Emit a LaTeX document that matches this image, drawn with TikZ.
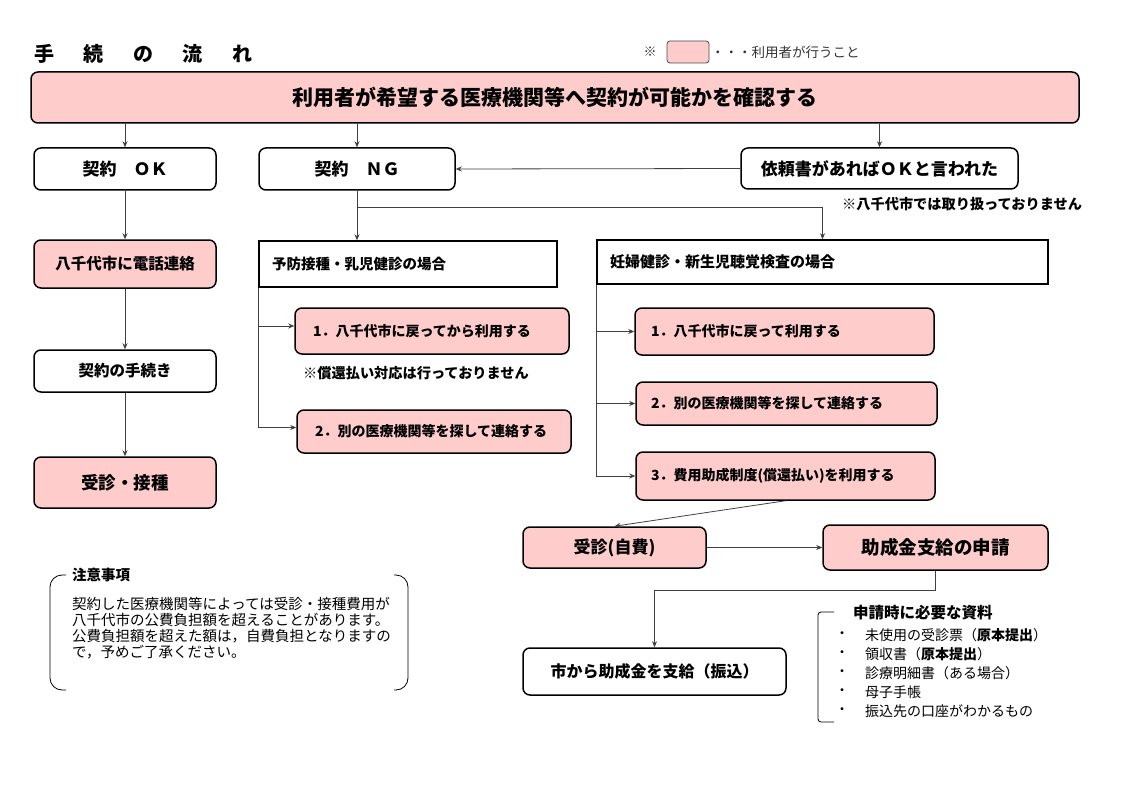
\documentclass[tikz,border=0pt]{standalone}
\usepackage{fontspec}
\setmainfont{Noto Sans CJK JP}
\usetikzlibrary{arrows.meta}
\definecolor{pk}{RGB}{255,204,204}
\newcommand{\fs}[1]{\fontsize{#1}{#1}\selectfont}
\begin{document}
\begin{tikzpicture}[x=1pt,y=-1pt,
  box/.style={draw, line width=1.5pt, rounded corners=7pt, inner sep=0pt, align=center, font=\bfseries},
  pinkbox/.style={box, fill=pk},
  sqbox/.style={draw, line width=1.5pt, inner ysep=0pt, align=left, font=\bfseries},
  lbox/.style={draw, line width=1.5pt, rounded corners=7pt, fill=pk, inner ysep=0pt, align=left, font=\bfseries},
  ln/.style={draw=black!75, line width=0.8pt},
  arr/.style={ln, -{Stealth[length=6pt,width=5pt]}},
  txt/.style={inner sep=0pt}]
\useasboundingbox (0,0) rectangle (1123,794);
\fill[white] (0,0) rectangle (1123,794);

% title
\node[txt, anchor=west, font=\bfseries\fs{20}] (title) at (34,54) {手\hspace{29.5pt}続\hspace{29.5pt}の\hspace{29.5pt}流\hspace{29.5pt}れ};

% legend
\node[txt, font=\fs{13}, text=black!80] (legmark) at (650,52) {※};
\node[draw=black!70, line width=0.8pt, fill=pk, rounded corners=3pt, minimum width=42, minimum height=22, inner sep=0pt] (leg) at (688,52) {};
\node[txt, anchor=west, font=\fs{13.5}, text=black!80] (legtxt) at (711,52) {・・・利用者が行うこと};

% top box
\node[pinkbox, minimum width=1048, minimum height=51, font=\bfseries\fs{21}] (top) at (555,97.5) {利用者が希望する医療機関等へ契約が可能かを確認する};

% second row
\node[box, minimum width=182, minimum height=42, font=\bfseries\fs{17}] (ok) at (125,169) {契約　ＯＫ};
\node[box, minimum width=196, minimum height=42, font=\bfseries\fs{17}] (ng) at (357,169) {契約　ＮＧ};
\node[box, minimum width=277, minimum height=41, font=\bfseries\fs{17}] (irai) at (879.5,168.5) {依頼書があればＯＫと言われた};
\node[txt, anchor=west, font=\bfseries\fs{14.2}] (note2) at (842,204) {※八千代市では取り扱っておりません};

% left column
\node[pinkbox, minimum width=182, minimum height=48, font=\bfseries\fs{15.5}] (tel) at (125,264) {八千代市に電話連絡};
\node[box, minimum width=182, minimum height=42, font=\bfseries\fs{15.5}] (proc) at (125,371) {契約の手続き};
\node[pinkbox, minimum width=182, minimum height=51, font=\bfseries\fs{17.5}] (jus) at (125,482.5) {受診・接種};

% NG branch - yobo
\node[sqbox, minimum height=46, inner xsep=13pt, text width=272pt, font=\bfseries\fs{14.5}] (yobo) at (408,264) {予防接種・乳児健診の場合};
\node[lbox, minimum height=46, inner xsep=18pt, text width=238pt, font=\bfseries\fs{14}] (y1) at (432,331) {1．八千代市に戻ってから利用する};
\node[txt, anchor=west, font=\bfseries\fs{14.2}] (note1) at (303,373) {※償還払い対応は行っておりません};
\node[lbox, minimum height=43, inner xsep=18pt, text width=238pt, font=\bfseries\fs{14}] (y2) at (434,431.5) {2．別の医療機関等を探して連絡する};

% NG branch - ninp
\node[sqbox, minimum height=44, inner xsep=13pt, text width=425pt, font=\bfseries\fs{15}] (ninp) at (822.5,262) {妊婦健診・新生児聴覚検査の場合};
\node[lbox, minimum height=47, inner xsep=16pt, text width=267pt, font=\bfseries\fs{14}] (n1) at (784.5,331.5) {1．八千代市に戻って利用する};
\node[lbox, minimum height=43, inner xsep=15pt, text width=271pt, font=\bfseries\fs{14}] (n2) at (786.5,403.5) {2．別の医療機関等を探して連絡する};
\node[lbox, minimum height=48, inner xsep=15pt, text width=269pt, font=\bfseries\fs{14}] (n3) at (785.5,476) {3．費用助成制度(償還払い)を利用する};

% bottom flow
\node[pinkbox, minimum width=183, minimum height=41, font=\bfseries\fs{17}] (jihi) at (614.5,547.5) {受診(自費)};
\node[pinkbox, minimum width=225, minimum height=45, font=\bfseries\fs{18.5}] (josei) at (935.5,547.5) {助成金支給の申請};
\node[box, minimum width=263, minimum height=47, font=\bfseries\fs{16}] (shi) at (654.5,671.5) {市から助成金を支給（振込）};

% caution
\node[txt, anchor=west, font=\bfseries\fs{14.5}] (cautt) at (72,575) {注意事項};
\node[txt, anchor=west, align=left, font=\fontsize{14.5}{16}\selectfont] (caut) at (72,628) {契約した医療機関等によっては受診・接種費用が\\八千代市の公費負担額を超えることがあります。\\公費負担額を超えた額は，自費負担となりますの\\で，予めご了承ください。};
\draw[line width=0.8pt, rounded corners=12pt] (66,575) -- (50,575) -- (50,690) -- (66,690);
\draw[line width=0.8pt, rounded corners=12pt] (394,575) -- (408,575) -- (408,690) -- (394,690);

% required documents
\node[txt, anchor=west, font=\bfseries\fs{15.5}] (reqt) at (853,613) {申請時に必要な資料};
\node[txt, align=center, font=\fontsize{14}{19}\selectfont] (dots) at (842,673) {・\\・\\・\\・\\・};
\node[txt, anchor=west, align=left, font=\fontsize{14}{19}\selectfont] (req) at (865,673) {未使用の受診票（\textbf{原本提出}）\\領収書（\textbf{原本提出}）\\診療明細書（ある場合）\\母子手帳\\振込先の口座がわかるもの};
\draw[line width=0.8pt, rounded corners=3pt] (834,612) -- (818,612) -- (818,722) -- (834,722);

% connectors
\draw[arr] (top.south -| ok.north) -- (ok.north);
\draw[arr] (top.south -| ng.north) -- (ng.north);
\draw[arr] (top.south -| irai.north) -- (irai.north);
\draw[arr] (irai.west) -- (ng.east);
\draw[arr] (ok) -- (tel);
\draw[arr] (tel) -- (proc);
\draw[arr] (proc) -- (jus);
\draw[arr] (ng.south) -- (ng.south |- yobo.north);
\path (ng.south) ++(0,17) coordinate (br);
\draw[arr] (br) -| (ninp.north);
\draw[arr] (yobo.south west) |- ([yshift=5pt]y1.west);
\draw[arr] (yobo.south west) |- ([yshift=4pt]y2.west);
\draw[arr] (ninp.south west) |- (n1.west);
\draw[arr] (ninp.south west) |- (n2.west);
\draw[arr] (ninp.south west) |- (n3.west);
\draw[arr] (n3.south) -- (jihi.north);
\draw[arr] (jihi) -- (josei);
\path (josei.south) ++(0,20) coordinate (br2);
\draw[arr] (josei.south) -- (br2) -| (shi.north);
\end{tikzpicture}
\end{document}
